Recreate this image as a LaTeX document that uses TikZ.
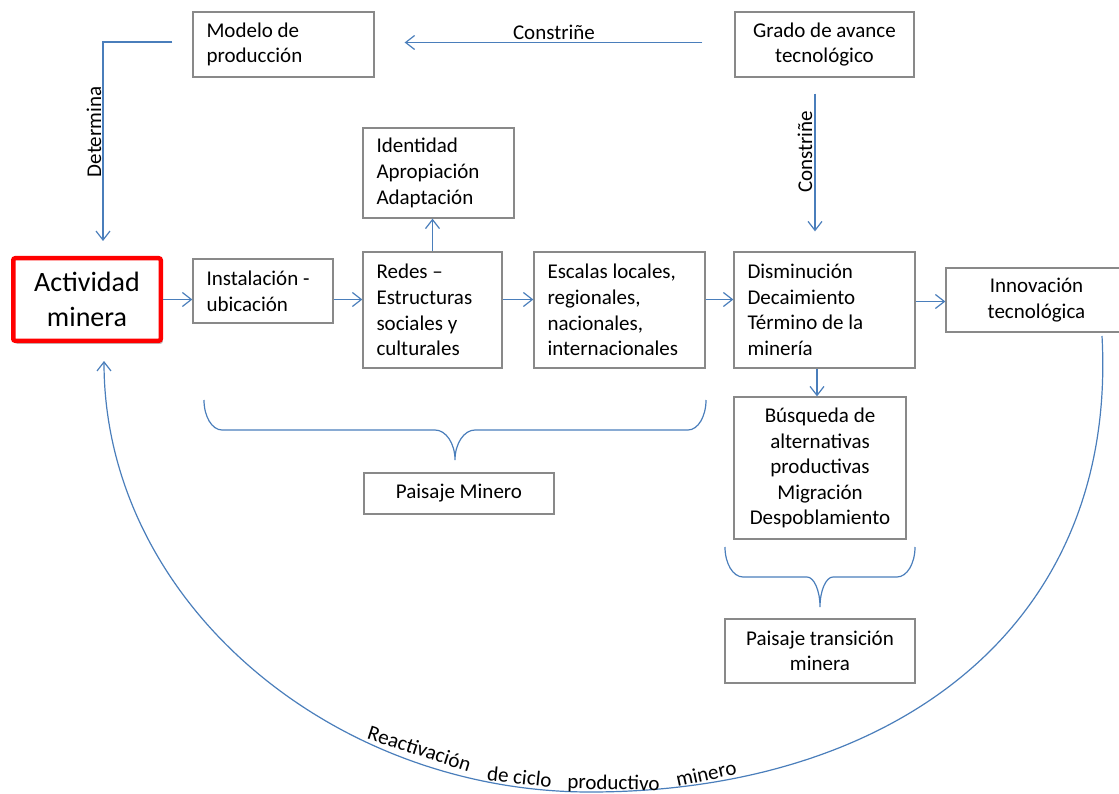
\documentclass[tikz,border=0pt]{standalone}
\usepackage{fontspec}
\setmainfont{Carlito}
\usetikzlibrary{arrows.meta,shadows,calc}
\definecolor{linkblue}{RGB}{74,126,187}
\definecolor{framegray}{RGB}{137,137,137}

\begin{document}
\begin{tikzpicture}[x=1pt,y=-1pt,
  every node/.style={font=\fontsize{21}{25.6}\selectfont, text=black},
  box/.style={draw=framegray, line width=1.3pt, rectangle, inner ysep=0pt},
  lbox/.style={box, align=flush left, inner xsep=13.5pt, text width=#1},
  cbox/.style={box, align=center, inner xsep=0pt},
  mainbox/.style={draw=red, line width=4.5pt, rounded corners=2pt, fill=white,
    minimum width=147.5pt, minimum height=82.5pt, align=center,
    font=\fontsize{28}{35}\selectfont,
    drop shadow={shadow xshift=2pt, shadow yshift=-3pt, opacity=0.35, fill=black!70}},
  conn/.style={draw=linkblue, line width=1.2pt, -{Straight Barb[length=9pt,width=14pt]}},
  brace/.style={draw=linkblue, line width=1.2pt}]

\useasboundingbox (0,0) rectangle (1119,794);

% boxes
\node[lbox=154pt, minimum height=65pt] (modelo) at (283.5,44.5) {Modelo de\\producción};
\node[cbox, minimum width=179pt, minimum height=65pt] (grado) at (824.5,44.5) {Grado de avance\\tecnológico};
\node[lbox=124pt, minimum height=90pt] (ident) at (438.5,173) {Identidad\\Apropiación\\Adaptación};
\node[mainbox] (act) at (87,299.5) {Actividad\\minera};
\node[lbox=113pt, minimum height=64pt] (inst) at (263,291) {Instalación -\\ubicación};
\node[lbox=112pt, minimum height=116pt] (redes) at (432.5,310) {Redes –\\Estructuras\\sociales y\\culturales};
\node[lbox=144pt, minimum height=116pt] (esc) at (619.5,310) {Escalas locales,\\regionales,\\nacionales,\\internacionales};
\node[lbox=154pt, minimum height=116pt] (dis) at (824.5,310) {Disminución\\Decaimiento\\Término de la\\minería};
\node[cbox, minimum width=181pt, minimum height=64pt] (innov) at (1036.5,300) {Innovación\\tecnológica};
\node[cbox, minimum width=172pt, minimum height=142pt] (busq) at (820,468) {Búsqueda de\\alternativas\\productivas\\Migración\\Despoblamiento};
\node[cbox, minimum width=190pt, minimum height=41pt] (pmin) at (459,493.5) {Paisaje Minero};
\node[cbox, minimum width=190pt, minimum height=64pt] (ptran) at (820,651) {Paisaje transición\\minera};

% main row
\draw[conn] (act.east) -- (act.east -| inst.west);
\draw[conn] (inst.east |- act.east) -- (redes.west |- act.east);
\draw[conn] (redes.east |- act.east) -- (esc.west |- act.east);
\draw[conn] (esc.east |- act.east) -- (dis.west |- act.east);
\draw[conn] ([yshift=-1.5pt]dis.east |- innov.west) -- ([yshift=-1.5pt]innov.west);
\draw[conn] (redes.north) -- (redes.north |- ident.south);
\draw[conn] ([xshift=-7.5pt]dis.south) -- ([xshift=-7.5pt]dis.south |- busq.north);

% constraints from the top row
\draw[conn, shorten <=32pt, shorten >=30pt] ([yshift=2pt]grado.west) -- ([yshift=2pt]grado.west -| modelo.east);
\node (lblh) at (554,32) {Constriñe};
\draw[conn] ([xshift=-9.5pt, yshift=-16pt]grado.south) -- ([xshift=-9.5pt, yshift=20pt]dis.north);
\node[rotate=90] (lblv) at (805,152) {Constriñe};
\draw[conn] ([xshift=-20pt, yshift=2.5pt]modelo.west) -| ([xshift=16pt, yshift=15pt]act.north);
\node[rotate=90] (lbld) at (94,132) {Determina};

% braces
\draw[brace] (204,400) .. controls (204,416.5) and (212,430) .. (222,430)
  -- (435,430) .. controls (446,430) and (455,443.5) .. (455,460)
  .. controls (455,443.5) and (464,430) .. (475,430)
  -- (688,430) .. controls (698,430) and (706,416.5) .. (706,400);
\draw[brace] (725,547) .. controls (725,563.5) and (733,577) .. (743,577)
  -- (807,577) .. controls (814,577) and (820,590.5) .. (820,607)
  .. controls (820,590.5) and (826,577) .. (833,577)
  -- (897,577) .. controls (907,577) and (915,563.5) .. (915,547);

% reactivation cycle
\coordinate (cycS) at (1102,336);
\coordinate (cycB) at (590,792);
\coordinate (cycE) at (104,361);
\draw[conn] (cycS) .. controls (1118,630) and (890,792) .. (cycB)
  .. controls (330,792) and (104,600) .. (cycE);
\node[rotate=-18] (w1) at (419.5,748.5) {Reactivación};
\node[rotate=-6] (w2) at (519.5,777) {de ciclo};
\node[rotate=-1] (w3) at (613.5,784) {productivo};
\node[rotate=12] (w4) at (706,773.5) {minero};
\end{tikzpicture}
\end{document}
